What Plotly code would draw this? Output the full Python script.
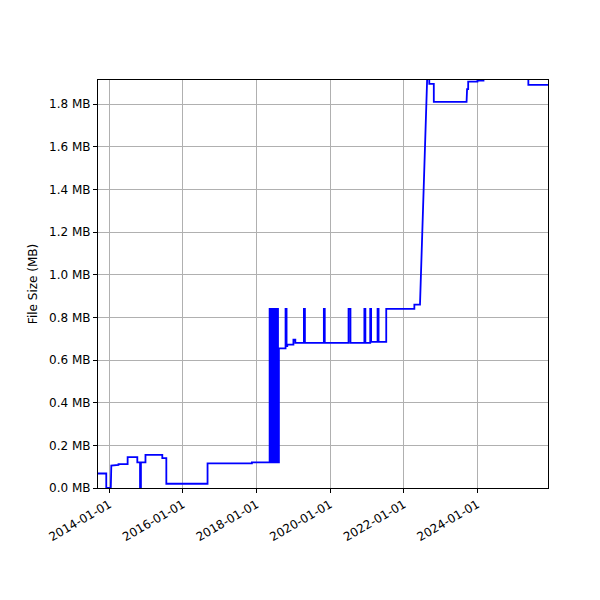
import plotly.graph_objects as go

dates = ["2013-09-10","2013-12-01","2013-12-01","2014-01-15","2014-01-20","2014-04-01","2014-04-01","2014-07-01","2014-07-01",
 "2014-10-05","2014-10-05","2014-11-01","2014-11-01","2014-11-10","2014-11-10","2014-12-25","2014-12-25","2015-06-10","2015-06-10",
 "2015-07-20","2015-07-20","2016-09-01","2016-09-01","2017-11-15","2017-11-15","2018-05-10",
 "2018-05-10","2018-05-20","2018-05-20","2018-06-01","2018-06-01","2018-06-10","2018-06-10","2018-06-20","2018-06-20","2018-07-01","2018-07-01","2018-07-15","2018-07-15","2018-08-01","2018-08-01","2018-08-10","2018-08-10",
 "2018-10-15","2018-10-15","2018-10-25","2018-10-25","2018-11-01","2018-11-01","2019-01-01","2019-01-01","2019-01-20","2019-01-20",
 "2019-04-15","2019-04-15","2019-04-25","2019-04-25","2019-10-30","2019-10-30","2019-11-08","2019-11-08",
 "2020-07-01","2020-07-01","2020-07-20","2020-07-20","2020-12-05","2020-12-05","2020-12-15","2020-12-15","2021-02-01","2021-02-01","2021-02-10","2021-02-10",
 "2021-03-01","2021-03-01","2021-04-15","2021-04-15","2021-04-25","2021-04-25","2021-07-10","2021-07-10","2022-04-15","2022-04-15",
 "2022-06-10","2022-08-20","2022-09-10","2022-09-10","2022-10-25","2022-10-25","2023-09-15","2023-09-20","2023-10-01","2023-10-01",
 "2024-01-01","2024-01-01","2024-03-01","2024-03-01","2025-05-20","2025-05-20","2025-12-01"]
sizes = [0.068,0.068,0.0,0.0,0.105,0.108,0.112,0.112,0.145,
 0.145,0.12,0.12,0.0,0.0,0.12,0.12,0.155,0.155,0.14,
 0.14,0.02,0.02,0.115,0.115,0.12,0.12,
 0.84,0.84,0.12,0.12,0.84,0.84,0.12,0.12,0.84,0.84,0.12,0.12,0.84,0.84,0.12,0.12,0.655,
 0.655,0.84,0.84,0.665,0.665,0.672,0.672,0.695,0.695,0.68,
 0.68,0.84,0.84,0.68,0.68,0.84,0.84,0.68,
 0.68,0.84,0.84,0.68,0.68,0.84,0.84,0.68,0.68,0.84,0.84,0.685,
 0.685,0.685,0.685,0.84,0.84,0.685,0.685,0.84,0.84,0.86,
 0.86,1.92,1.92,1.895,1.895,1.81,1.81,1.87,1.87,1.905,
 1.905,1.91,1.91,1.95,1.95,1.89,1.89]
ytickvals = [0,0.2,0.4,0.6,0.8,1.0,1.2,1.4,1.6,1.8]
yticktext = [f"{v:.1f} MB" for v in ytickvals]
xtickvals = ["2014-01-01","2016-01-01","2018-01-01","2020-01-01","2022-01-01","2024-01-01"]

fig = go.Figure(go.Scatter(x=dates, y=sizes, mode="lines", line=dict(color="blue", width=1.8)))
ax = dict(showline=True, linecolor="black", mirror=True, showgrid=True, gridcolor="#b0b0b0",
          ticks="outside", ticklen=4, tickcolor="black", zeroline=False, automargin=False)
fig.update_layout(width=600, height=600, margin=dict(l=90, r=60, t=72, b=120),
    plot_bgcolor="white", paper_bgcolor="white", showlegend=False,
    font=dict(family="DejaVu Sans", size=12, color="black"))
fig.update_xaxes(range=["2013-09-10","2025-12-01"], tickvals=xtickvals, ticktext=xtickvals, tickangle=-30, **ax)
fig.update_yaxes(range=[0,1.913], tickvals=ytickvals, ticktext=yticktext,
    title=dict(text="File Size (MB)", font=dict(size=12), standoff=8), **ax)
fig.write_html("out.html")
